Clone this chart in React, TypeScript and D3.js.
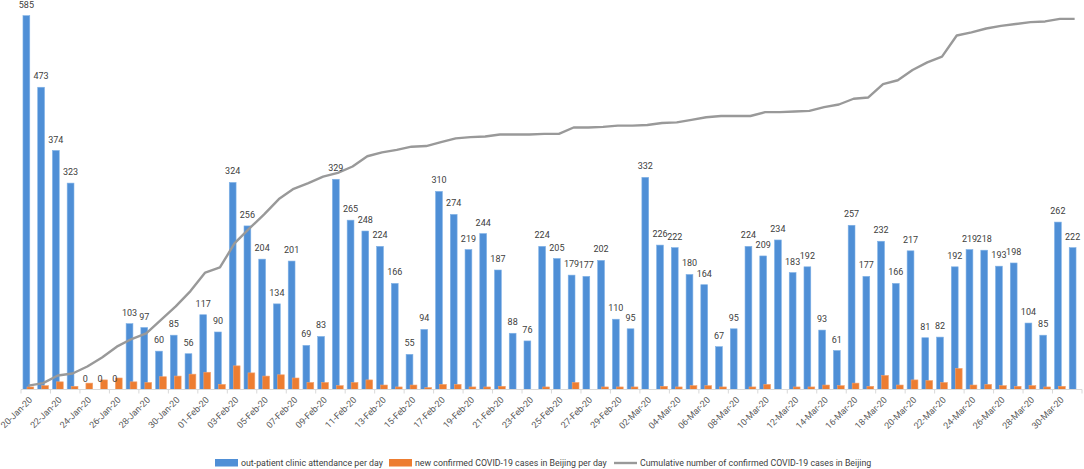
import { select, scaleBand, scaleLinear, line as d3Line, timeDays, timeFormat } from "d3";
import { useEffect, useRef } from "react";

// days shown: 20-Jan-20 .. 31-Mar-20
const days = timeDays(new Date(2020, 0, 20), new Date(2020, 3, 1)).map(timeFormat("%d-%b-%y"));

const attendance = [
  585, 473, 374, 323, 0, 0, 0, 103, 97, 60,
  85, 56, 117, 90, 324, 256, 204, 134, 201, 69,
  83, 329, 265, 248, 224, 166, 55, 94, 310, 274,
  219, 244, 187, 88, 76, 224, 205, 179, 177, 202,
  110, 95, 332, 226, 222, 180, 164, 67, 95, 224,
  209, 234, 183, 192, 93, 61, 257, 177, 232, 166,
  217, 81, 82, 192, 219, 218, 193, 198, 104, 85,
  262, 222,
];

const newCases = [
  4, 6, 12, 5, 10, 15, 18, 12, 11, 20,
  21, 24, 27, 8, 37, 26, 21, 23, 18, 11,
  11, 6, 11, 15, 7, 4, 7, 3, 8, 8,
  4, 4, 5, 0, 0, 4, 0, 11, 0, 4,
  4, 4, 0, 5, 4, 6, 6, 4, 0, 4,
  8, 0, 4, 4, 7, 6, 10, 5, 22, 7,
  15, 14, 11, 33, 7, 8, 6, 5, 6, 4,
  5, 0,
];

const cumulative = [
  6, 10, 22, 25, 36, 50, 67, 79, 88, 109,
  130, 154, 183, 191, 229, 252, 274, 298, 314, 323,
  333, 339, 349, 365, 371, 375, 380, 381, 387, 393,
  395, 396, 399, 399, 399, 400, 400, 410, 410, 411,
  413, 413, 414, 417, 418, 422, 426, 428, 428, 428,
  434, 434, 435, 436, 442, 446, 455, 457, 478, 484,
  500, 512, 521, 554, 559, 565, 569, 572, 575, 576,
  580, 580,
];

const legendItems = [
  { label: "out-patient clinic attendance per day", kind: "rect", color: "#4f8fd6", x: 215 },
  { label: "new confirmed COVID-19 cases in Beijing per day", kind: "rect", color: "#ed7d31", x: 389 },
  { label: "Cumulative number of confirmed COVID-19 cases in Beijing", kind: "line", color: "#999999", x: 614 },
];

const W = 1084;
const H = 469;
const FONT = "Roboto, 'Open Sans', sans-serif";

export default function App() {
  const ref = useRef<SVGSVGElement | null>(null);

  useEffect(() => {
    if (!ref.current) return;
    const svg = select(ref.current);
    svg.selectAll("*").remove();

    const x = scaleBand<string>().domain(days).range([21, 1082]).padding(0);
    const y = scaleLinear().domain([0, 600]).range([389.5, 6.1]);
    const bw = x.bandwidth();
    const barW = 6.8;
    const mid = (d: string) => (x(d) as number) + bw / 2;

    // blue bars
    svg
      .append("g")
      .selectAll("rect")
      .data(attendance)
      .join("rect")
      .attr("x", (_, i) => mid(days[i]) - 2 - barW / 2)
      .attr("y", (d) => y(d))
      .attr("width", barW)
      .attr("height", (d) => y(0) - y(d))
      .attr("fill", "#4f8fd6")
      .attr("stroke", "#7fb1e6")
      .attr("stroke-width", 0.6);

    // orange bars
    svg
      .append("g")
      .selectAll("rect")
      .data(newCases)
      .join("rect")
      .attr("x", (_, i) => mid(days[i]) + 2 - barW / 2)
      .attr("y", (d) => y(d))
      .attr("width", barW)
      .attr("height", (d) => y(0) - y(d))
      .attr("fill", "#ed7d31")
      .attr("stroke", (d) => (d > 0 ? "#f4a26c" : "none"))
      .attr("stroke-width", 0.6);

    // axis line + ticks every 2 days
    svg
      .append("line")
      .attr("x1", 21)
      .attr("x2", 1082)
      .attr("y1", y(0))
      .attr("y2", y(0))
      .attr("stroke", "#d9d9d9")
      .attr("stroke-width", 1);

    svg
      .append("g")
      .selectAll("line")
      .data(days.filter((_, i) => i % 2 === 0).concat(["end"]))
      .join("line")
      .attr("x1", (d) => (d === "end" ? 1082 : (x(d) as number)))
      .attr("x2", (d) => (d === "end" ? 1082 : (x(d) as number)))
      .attr("y1", y(0))
      .attr("y2", y(0) + 4)
      .attr("stroke", "#d9d9d9");

    // cumulative line
    const line = d3Line<number>()
      .x((_, i) => mid(days[i]))
      .y((d) => y(d));
    svg
      .append("path")
      .attr("d", line(cumulative)!)
      .attr("fill", "none")
      .attr("stroke", "#999999")
      .attr("stroke-width", 2.4)
      .attr("stroke-linejoin", "round");

    // value labels
    svg
      .append("g")
      .selectAll("text")
      .data(attendance)
      .join("text")
      .attr("x", (_, i) => mid(days[i]) - 2)
      .attr("y", (d) => y(d) - 8)
      .attr("text-anchor", "middle")
      .attr("font-family", FONT)
      .attr("font-size", 9)
      .attr("fill", "#404040")
      .text((d) => d);

    // x tick labels
    svg
      .append("g")
      .selectAll("text")
      .data(days.filter((_, i) => i % 2 === 0))
      .join("text")
      .attr("transform", (d) => `translate(${mid(d) + 4.5},${y(0) + 11}) rotate(-45)`)
      .attr("text-anchor", "end")
      .attr("font-family", FONT)
      .attr("font-size", 9)
      .attr("fill", "#595959")
      .text((d) => d);

    // legend
    const lg = svg.append("g").selectAll("g").data(legendItems).join("g");
    lg.filter((d) => d.kind === "rect")
      .append("rect")
      .attr("x", (d) => d.x)
      .attr("y", 459)
      .attr("width", 23)
      .attr("height", 7.5)
      .attr("fill", (d) => d.color);
    lg.filter((d) => d.kind === "line")
      .append("line")
      .attr("x1", (d) => d.x)
      .attr("x2", (d) => d.x + 23)
      .attr("y1", 463)
      .attr("y2", 463)
      .attr("stroke", (d) => d.color)
      .attr("stroke-width", 2.4);
    lg.append("text")
      .attr("x", (d) => d.x + 26)
      .attr("y", 466)
      .attr("font-family", FONT)
      .attr("font-size", 8.8)
      .attr("fill", "#404040")
      .text((d) => d.label);
  }, []);

  return (
    <svg
      ref={ref}
      width={W}
      height={H}
      style={{ position: "absolute", left: 0, top: 0, background: "#fff" }}
    ></svg>
  );
}
